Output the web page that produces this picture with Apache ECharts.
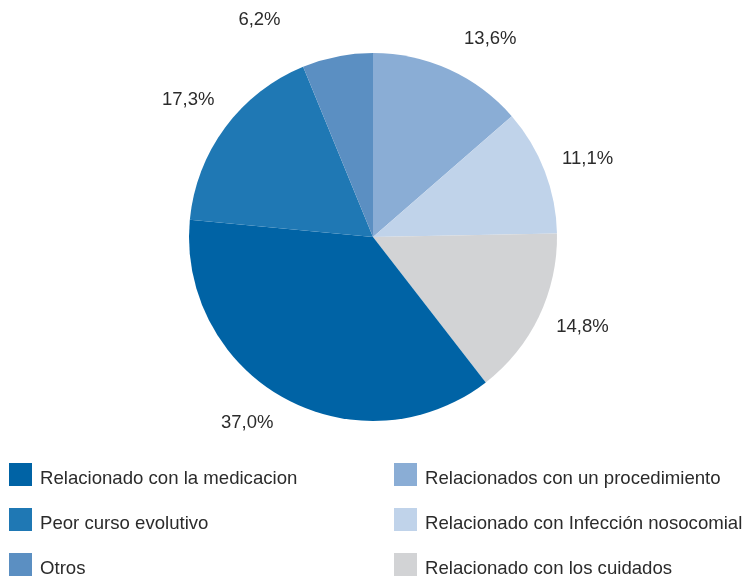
<!DOCTYPE html>
<html>
<head>
<meta charset="utf-8">
<script src="https://cdn.jsdelivr.net/npm/echarts@6/dist/echarts.min.js"></script>
<style>
html, body { margin: 0; padding: 0; background: #fff; }
#main { width: 750px; height: 576px; }
</style>
</head>
<body>
<div id="main"></div>
<script>
// categories in clockwise drawing order, starting at 12 o'clock
var categories = ['Relacionados con un procedimiento', 'Relacionado con Infección nosocomial',
	'Relacionado con los cuidados', 'Relacionado con la medicacion', 'Peor curso evolutivo', 'Otros'];
var values = [13.6, 11.1, 14.8, 37.0, 17.3, 6.2];
var colors = ['#8aadd5', '#c0d3ea', '#d2d3d5', '#0063a5', '#1f78b4', '#5b8fc2'];

var legendLeft = ['Relacionado con la medicacion', 'Peor curso evolutivo', 'Otros'];
var legendRight = ['Relacionados con un procedimiento', 'Relacionado con Infección nosocomial', 'Relacionado con los cuidados'];

var myChart = echarts.init(document.getElementById('main'));

var pieData = categories.map(function (c, i) {
	return { name: c, value: values[i], itemStyle: { color: colors[i] } };
});

// label ring, a few labels nudged like in the original
var labelOffsets = {
	'Otros': [-69, 9],
	'Relacionado con la medicacion': [-15, -16],
	'Relacionados con un procedimiento': [22, 11],
	'Relacionado con Infección nosocomial': [0, 5],
	'Relacionado con los cuidados': [2, -9]
};
var labelData = categories.map(function (c, i) {
	var d = { name: c, value: values[i], itemStyle: { color: 'rgba(0,0,0,0)' } };
	if (labelOffsets[c]) d.label = { offset: labelOffsets[c] };
	return d;
});

var legendCommon = {
	orient: 'vertical',
	top: 463,
	height: 130,
	padding: 0,
	itemWidth: 23,
	itemHeight: 23,
	itemGap: 20,
	icon: 'rect',
	selectedMode: false,
	formatter: '{t|{name}}',
	textStyle: {
		fontFamily: 'Liberation Sans, Arial, sans-serif',
		fontSize: 18.6,
		color: '#2b2b2b',
		rich: {
			t: {
				fontFamily: 'Liberation Sans, Arial, sans-serif',
				fontSize: 18.6,
				color: '#2b2b2b',
				padding: [8, 0, 0, 3]
			}
		}
	}
};

var option = {
	animation: false,
	color: colors,
	legend: [
		Object.assign({ left: 9, data: legendLeft }, legendCommon),
		Object.assign({ left: 394, data: legendRight }, legendCommon)
	],
	series: [{
		name: 'pie',
		type: 'pie',
		center: [373, 237],
		radius: [0, 184],
		startAngle: 90,
		clockwise: true,
		silent: true,
		label: { show: false },
		labelLine: { show: false },
		itemStyle: { borderWidth: 0 },
		data: pieData
	}, {
		name: 'labels',
		type: 'pie',
		center: [373, 237],
		radius: [188, 266],
		startAngle: 90,
		clockwise: true,
		silent: true,
		legendHoverLink: false,
		label: {
			show: true,
			position: 'inside',
			fontFamily: 'Liberation Sans, Arial, sans-serif',
			fontSize: 18.5,
			color: '#2b2b2b',
			formatter: function (p) {
				return p.value.toFixed(1).replace('.', ',') + '%';
			}
		},
		labelLine: { show: false },
		data: labelData
	}]
};

myChart.setOption(option);
</script>
</body>
</html>
